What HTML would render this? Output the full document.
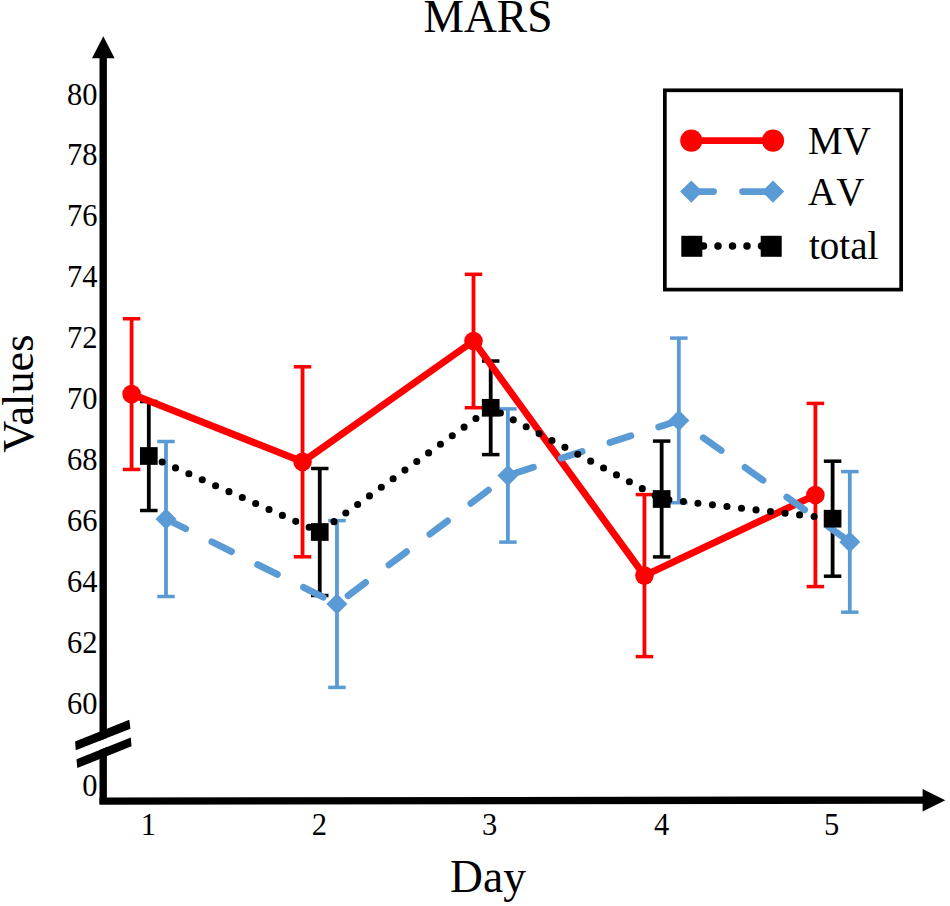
<!DOCTYPE html>
<html><head><meta charset="utf-8"><style>
html,body{margin:0;padding:0;background:#fff;}
svg{display:block;}
text{font-family:"Liberation Serif",serif;fill:#000;font-kerning:none;}
</style></head><body>
<svg width="950" height="906" viewBox="0 0 950 906">
<rect width="950" height="906" fill="#fff"/>
<line x1="103.2" y1="57" x2="103.2" y2="804" stroke="#000" stroke-width="7.4"/>
<polygon points="99.5,797.4 924,796.4 924,803.8 99.5,804.8" fill="#000"/>
<polygon points="103.3,36.3 92,58.3 114.6,58.3" fill="#000"/>
<polygon points="945.3,800.3 922.6,789 922.6,811.6" fill="#000"/>
<polygon points="75.77,750.3 130.4,728.7 130.8,737.6 76.5,759.2" fill="#fff"/>
<polygon points="75.1,741.4 129.3,719.8 130.4,728.7 75.77,750.3" fill="#000"/>
<polygon points="76.5,759.2 130.8,737.6 131.5,746.2 77.3,768.1" fill="#000"/>
<line x1="131.6" y1="318.75" x2="131.6" y2="469.45" stroke="#FF0000" stroke-width="3.8"/>
<line x1="122.85" y1="318.75" x2="140.35" y2="318.75" stroke="#FF0000" stroke-width="3.5"/>
<line x1="122.85" y1="469.45" x2="140.35" y2="469.45" stroke="#FF0000" stroke-width="3.5"/>
<line x1="302.55" y1="366.8" x2="302.55" y2="556.8" stroke="#FF0000" stroke-width="3.8"/>
<line x1="293.8" y1="366.8" x2="311.3" y2="366.8" stroke="#FF0000" stroke-width="3.5"/>
<line x1="293.8" y1="556.8" x2="311.3" y2="556.8" stroke="#FF0000" stroke-width="3.5"/>
<line x1="473.5" y1="274.3" x2="473.5" y2="407.7" stroke="#FF0000" stroke-width="3.8"/>
<line x1="464.75" y1="274.3" x2="482.25" y2="274.3" stroke="#FF0000" stroke-width="3.5"/>
<line x1="464.75" y1="407.7" x2="482.25" y2="407.7" stroke="#FF0000" stroke-width="3.5"/>
<line x1="644.45" y1="494.6" x2="644.45" y2="656.6" stroke="#FF0000" stroke-width="3.8"/>
<line x1="635.7" y1="494.6" x2="653.2" y2="494.6" stroke="#FF0000" stroke-width="3.5"/>
<line x1="635.7" y1="656.6" x2="653.2" y2="656.6" stroke="#FF0000" stroke-width="3.5"/>
<line x1="815.4" y1="403.4" x2="815.4" y2="586.6" stroke="#FF0000" stroke-width="3.8"/>
<line x1="806.65" y1="403.4" x2="824.15" y2="403.4" stroke="#FF0000" stroke-width="3.5"/>
<line x1="806.65" y1="586.6" x2="824.15" y2="586.6" stroke="#FF0000" stroke-width="3.5"/>
<line x1="166" y1="441.5" x2="166" y2="596.5" stroke="#5B9BD5" stroke-width="3.8"/>
<line x1="157.25" y1="441.5" x2="174.75" y2="441.5" stroke="#5B9BD5" stroke-width="3.5"/>
<line x1="157.25" y1="596.5" x2="174.75" y2="596.5" stroke="#5B9BD5" stroke-width="3.5"/>
<line x1="336.95" y1="520.6" x2="336.95" y2="687.4" stroke="#5B9BD5" stroke-width="3.8"/>
<line x1="328.2" y1="520.6" x2="345.7" y2="520.6" stroke="#5B9BD5" stroke-width="3.5"/>
<line x1="328.2" y1="687.4" x2="345.7" y2="687.4" stroke="#5B9BD5" stroke-width="3.5"/>
<line x1="507.9" y1="408.9" x2="507.9" y2="542.1" stroke="#5B9BD5" stroke-width="3.8"/>
<line x1="499.15" y1="408.9" x2="516.65" y2="408.9" stroke="#5B9BD5" stroke-width="3.5"/>
<line x1="499.15" y1="542.1" x2="516.65" y2="542.1" stroke="#5B9BD5" stroke-width="3.5"/>
<line x1="678.85" y1="338.1" x2="678.85" y2="502.7" stroke="#5B9BD5" stroke-width="3.8"/>
<line x1="670.1" y1="338.1" x2="687.6" y2="338.1" stroke="#5B9BD5" stroke-width="3.5"/>
<line x1="670.1" y1="502.7" x2="687.6" y2="502.7" stroke="#5B9BD5" stroke-width="3.5"/>
<line x1="849.8" y1="471.6" x2="849.8" y2="612.2" stroke="#5B9BD5" stroke-width="3.8"/>
<line x1="841.05" y1="471.6" x2="858.55" y2="471.6" stroke="#5B9BD5" stroke-width="3.5"/>
<line x1="841.05" y1="612.2" x2="858.55" y2="612.2" stroke="#5B9BD5" stroke-width="3.5"/>
<line x1="148.8" y1="401.5" x2="148.8" y2="510.5" stroke="#000000" stroke-width="3.8"/>
<line x1="140.05" y1="401.5" x2="157.55" y2="401.5" stroke="#000000" stroke-width="3.5"/>
<line x1="140.05" y1="510.5" x2="157.55" y2="510.5" stroke="#000000" stroke-width="3.5"/>
<line x1="319.75" y1="468.5" x2="319.75" y2="595.5" stroke="#000000" stroke-width="3.8"/>
<line x1="311" y1="468.5" x2="328.5" y2="468.5" stroke="#000000" stroke-width="3.5"/>
<line x1="311" y1="595.5" x2="328.5" y2="595.5" stroke="#000000" stroke-width="3.5"/>
<line x1="490.7" y1="361" x2="490.7" y2="454.6" stroke="#000000" stroke-width="3.8"/>
<line x1="481.95" y1="361" x2="499.45" y2="361" stroke="#000000" stroke-width="3.5"/>
<line x1="481.95" y1="454.6" x2="499.45" y2="454.6" stroke="#000000" stroke-width="3.5"/>
<line x1="661.65" y1="441.1" x2="661.65" y2="556.9" stroke="#000000" stroke-width="3.8"/>
<line x1="652.9" y1="441.1" x2="670.4" y2="441.1" stroke="#000000" stroke-width="3.5"/>
<line x1="652.9" y1="556.9" x2="670.4" y2="556.9" stroke="#000000" stroke-width="3.5"/>
<line x1="832.6" y1="461.2" x2="832.6" y2="576.2" stroke="#000000" stroke-width="3.8"/>
<line x1="823.85" y1="461.2" x2="841.35" y2="461.2" stroke="#000000" stroke-width="3.5"/>
<line x1="823.85" y1="576.2" x2="841.35" y2="576.2" stroke="#000000" stroke-width="3.5"/>
<polyline points="131.6,394.1 302.55,461.8 473.5,341 644.45,575.6 815.4,495" fill="none" stroke="#FF0000" stroke-width="7" stroke-linejoin="round"/>
<polyline points="166,519 336.95,604 507.9,475.5 678.85,420.4 849.8,541.9" fill="none" stroke="#5B9BD5" stroke-width="6.8" stroke-linecap="round" stroke-dasharray="22 29.2" stroke-dashoffset="0"/>
<polyline points="148.8,456 319.75,532 490.7,407.8 661.65,499 832.6,518.7" fill="none" stroke="#000000" stroke-width="7.1" stroke-linecap="round" stroke-dasharray="0 14.62" stroke-dashoffset="0"/>
<circle cx="131.6" cy="394.1" r="9.3" fill="#FF0000"/>
<circle cx="302.55" cy="461.8" r="9.3" fill="#FF0000"/>
<circle cx="473.5" cy="341" r="9.3" fill="#FF0000"/>
<circle cx="644.45" cy="575.6" r="9.3" fill="#FF0000"/>
<circle cx="815.4" cy="495" r="9.3" fill="#FF0000"/>
<polygon points="155.5,519 166,508.5 176.5,519 166,529.5" fill="#5B9BD5"/>
<polygon points="326.45,604 336.95,593.5 347.45,604 336.95,614.5" fill="#5B9BD5"/>
<polygon points="497.4,475.5 507.9,465 518.4,475.5 507.9,486" fill="#5B9BD5"/>
<polygon points="668.35,420.4 678.85,409.9 689.35,420.4 678.85,430.9" fill="#5B9BD5"/>
<polygon points="839.3,541.9 849.8,531.4 860.3,541.9 849.8,552.4" fill="#5B9BD5"/>
<rect x="139.95" y="447.15" width="17.7" height="17.7" fill="#000000"/>
<rect x="310.9" y="523.15" width="17.7" height="17.7" fill="#000000"/>
<rect x="481.85" y="398.95" width="17.7" height="17.7" fill="#000000"/>
<rect x="652.8" y="490.15" width="17.7" height="17.7" fill="#000000"/>
<rect x="823.75" y="509.85" width="17.7" height="17.7" fill="#000000"/>
<rect x="664.85" y="90.3" width="236.3" height="199.3" fill="#fff" stroke="#000" stroke-width="3.7"/>
<line x1="691.3" y1="140.6" x2="773" y2="140.6" stroke="#FF0000" stroke-width="6.6"/>
<circle cx="691.3" cy="140.6" r="11.1" fill="#FF0000"/>
<circle cx="773" cy="140.6" r="11.1" fill="#FF0000"/>
<line x1="694" y1="191.6" x2="713.5" y2="191.6" stroke="#5B9BD5" stroke-width="6.9" stroke-linecap="round"/>
<line x1="742.6" y1="191.6" x2="770" y2="191.6" stroke="#5B9BD5" stroke-width="6.9" stroke-linecap="round"/>
<polygon points="680.1,191.6 691.3,180.4 702.5,191.6 691.3,202.8" fill="#5B9BD5"/>
<polygon points="761.8,191.6 773,180.4 784.2,191.6 773,202.8" fill="#5B9BD5"/>
<line x1="703.5" y1="246" x2="762" y2="246" stroke="#000" stroke-width="7.5" stroke-linecap="round" stroke-dasharray="0 14.5"/>
<rect x="681.3" y="235.8" width="21" height="21" fill="#000"/>
<rect x="760.7" y="235.8" width="21" height="21" fill="#000"/>
<text x="808" y="154" font-size="39">MV</text>
<text x="808" y="205" font-size="39">AV</text>
<text x="809" y="258.9" font-size="39">total</text>
<text x="97.6" y="104.5" text-anchor="end" font-size="30.5">80</text>
<text x="97.6" y="165.4" text-anchor="end" font-size="30.5">78</text>
<text x="97.6" y="226.3" text-anchor="end" font-size="30.5">76</text>
<text x="97.6" y="287.2" text-anchor="end" font-size="30.5">74</text>
<text x="97.6" y="348.1" text-anchor="end" font-size="30.5">72</text>
<text x="97.6" y="409" text-anchor="end" font-size="30.5">70</text>
<text x="97.6" y="469.9" text-anchor="end" font-size="30.5">68</text>
<text x="97.6" y="530.8" text-anchor="end" font-size="30.5">66</text>
<text x="97.6" y="591.7" text-anchor="end" font-size="30.5">64</text>
<text x="97.6" y="652.6" text-anchor="end" font-size="30.5">62</text>
<text x="97.6" y="713.5" text-anchor="end" font-size="30.5">60</text>
<text x="97.4" y="796" text-anchor="end" font-size="30.5">0</text>
<text x="148.4" y="835" text-anchor="middle" font-size="30.5">1</text>
<text x="319.3" y="835" text-anchor="middle" font-size="30.5">2</text>
<text x="489.6" y="835" text-anchor="middle" font-size="30.5">3</text>
<text x="661.5" y="835" text-anchor="middle" font-size="30.5">4</text>
<text x="831.7" y="835" text-anchor="middle" font-size="30.5">5</text>
<text x="488" y="32.1" text-anchor="middle" font-size="45.5">MARS</text>
<text x="488" y="892.3" text-anchor="middle" font-size="45.5">Day</text>
<text transform="translate(33.4,393.6) rotate(-90)" x="0" y="0" text-anchor="middle" font-size="44.3" style="font-kerning:normal">Values</text>
</svg>
</body></html>
